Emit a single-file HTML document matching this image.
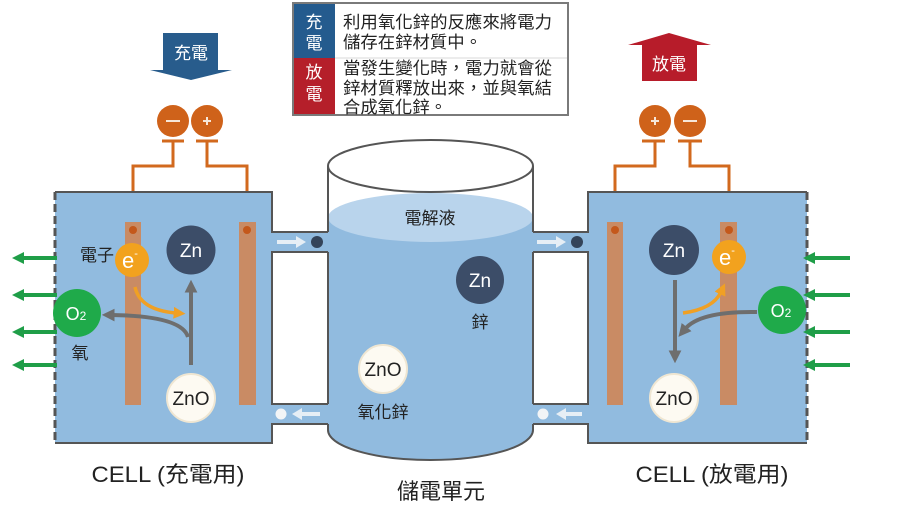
<!DOCTYPE html>
<html><head><meta charset="utf-8"><style>
html,body{margin:0;padding:0;background:#fff;}
svg{display:block;}
text{font-family:"Liberation Sans","Noto Sans CJK TC",sans-serif;}
</style></head><body>
<svg width="900" height="524" viewBox="0 0 900 524" xmlns="http://www.w3.org/2000/svg">
<defs>
<marker id="mg" viewBox="0 0 10 10" refX="2" refY="5" markerWidth="3.2" markerHeight="3.2" orient="auto" markerUnits="strokeWidth"><path d="M0,0 L10,5 L0,10 z" fill="#6e6e6e"/></marker>
<marker id="mo" viewBox="0 0 10 10" refX="2" refY="5" markerWidth="3.4" markerHeight="3.4" orient="auto" markerUnits="strokeWidth"><path d="M0,0 L10,5 L0,10 z" fill="#f0a024"/></marker>
</defs>

<!-- top arrows -->
<polygon points="163,33 218,33 218,70 232,70 191,80 150,70 163,70" fill="#285c8c"/>
<text x="191" y="59" font-size="17" fill="#fff" text-anchor="middle">充電</text>
<polygon points="669,33 711,45 697,45 697,81 642,81 642,45 628,45" fill="#b71c2a"/>
<text x="669" y="70" font-size="17" fill="#fff" text-anchor="middle">放電</text>

<!-- info box -->
<rect x="293" y="3" width="275" height="112" fill="#fff" stroke="#7a7a7a" stroke-width="2"/>
<rect x="294" y="4" width="41" height="54" fill="#245b8e"/>
<rect x="294" y="58" width="41" height="56" fill="#b51f2a"/>
<line x1="335" y1="58" x2="567" y2="58" stroke="#d8d8d8" stroke-width="1"/>
<g font-size="17" fill="#fff" text-anchor="middle">
<text x="314" y="28">充</text><text x="314" y="49">電</text>
<text x="314" y="78">放</text><text x="314" y="100">電</text>
</g>
<g font-size="17" fill="#222">
<text x="343" y="28" textLength="209" lengthAdjust="spacingAndGlyphs">利用氧化鋅的反應來將電力</text>
<text x="343" y="48" textLength="139" lengthAdjust="spacingAndGlyphs">儲存在鋅材質中。</text>
<text x="343" y="74" textLength="209" lengthAdjust="spacingAndGlyphs">當發生變化時，電力就會從</text>
<text x="343" y="94" textLength="209" lengthAdjust="spacingAndGlyphs">鋅材質釋放出來，並與氧結</text>
<text x="343" y="113" textLength="104" lengthAdjust="spacingAndGlyphs">合成氧化鋅。</text>
</g>

<!-- terminals & wires -->
<g stroke="#d2691e" stroke-width="3" fill="none">
<polyline points="173,141 173,166 133,166 133,230"/>
<polyline points="207,141 207,166 247,166 247,230"/>
<line x1="162" y1="141" x2="184" y2="141"/>
<line x1="196" y1="141" x2="218" y2="141"/>
<polyline points="655,141 655,166 615,166 615,230"/>
<polyline points="690,141 690,166 729,166 729,230"/>
<line x1="642" y1="141" x2="665" y2="141"/>
<line x1="678" y1="141" x2="702" y2="141"/>
</g>
<circle cx="173" cy="121" r="16" fill="#cf621a"/>
<circle cx="207" cy="121" r="16" fill="#cf621a"/>
<circle cx="655" cy="121" r="16" fill="#cf621a"/>
<circle cx="690" cy="121" r="16" fill="#cf621a"/>
<g stroke="#f6e6d8" stroke-width="2">
<line x1="166" y1="121" x2="180" y2="121"/>
<line x1="203" y1="121" x2="211" y2="121"/><line x1="207" y1="117" x2="207" y2="125"/>
<line x1="651" y1="121" x2="659" y2="121"/><line x1="655" y1="117" x2="655" y2="125"/>
<line x1="683" y1="121" x2="697" y2="121"/>
</g>

<!-- fills -->
<g fill="#91bbdf">
<rect x="55" y="192" width="217" height="251"/>
<rect x="588" y="192" width="219" height="251"/>
<rect x="272" y="232" width="56" height="20"/>
<rect x="272" y="404" width="56" height="20"/>
<rect x="533" y="232" width="55" height="20"/>
<rect x="533" y="404" width="55" height="20"/>
<rect x="328" y="217" width="205" height="213"/>
<path d="M328,430 A102.5,30 0 0 0 533,430 z"/>
</g>
<ellipse cx="430.5" cy="217.5" rx="102.5" ry="24.5" fill="#b9d4ec"/>
<!-- outlines -->
<g stroke="#555" stroke-width="2" fill="none">
<polyline points="55,192 272,192 272,232 328,232"/>
<polyline points="328,252 272,252 272,404 328,404"/>
<polyline points="328,424 272,424 272,443 55,443"/>
<polyline points="807,192 588,192 588,232 533,232"/>
<polyline points="533,252 588,252 588,404 533,404"/>
<polyline points="533,424 588,424 588,443 807,443"/>
<line x1="328" y1="166" x2="328" y2="232"/>
<line x1="328" y1="252" x2="328" y2="404"/>
<line x1="328" y1="424" x2="328" y2="430"/>
<line x1="533" y1="166" x2="533" y2="232"/>
<line x1="533" y1="252" x2="533" y2="404"/>
<line x1="533" y1="424" x2="533" y2="430"/>
<path d="M328,430 A102.5,30 0 0 0 533,430"/>
</g>
<ellipse cx="430.5" cy="166" rx="102.5" ry="26" fill="#fff" stroke="#555" stroke-width="2"/>
<g stroke="#555" stroke-width="3" stroke-dasharray="8,4">
<line x1="55" y1="192" x2="55" y2="443"/>
<line x1="807" y1="192" x2="807" y2="443"/>
</g>

<!-- pipe arrows -->
<g stroke="#e6eef5" stroke-width="4">
<line x1="277" y1="242" x2="298" y2="242"/>
<line x1="537" y1="242" x2="558" y2="242"/>
<line x1="300" y1="414" x2="320" y2="414"/>
<line x1="564" y1="414" x2="582" y2="414"/>
</g>
<g fill="#e6eef5">
<polygon points="296,236 306,242 296,248"/>
<polygon points="556,236 566,242 556,248"/>
<polygon points="302,408 292,414 302,420"/>
<polygon points="566,408 556,414 566,420"/>
<circle cx="281" cy="414" r="5.5" fill="#f2f4f6"/>
<circle cx="543" cy="414" r="5.5" fill="#f2f4f6"/>
</g>
<circle cx="317" cy="242" r="6" fill="#34445a"/>
<circle cx="577" cy="242" r="6" fill="#34445a"/>

<!-- electrodes -->
<g fill="#c98b64">
<rect x="125" y="222" width="16" height="183"/>
<rect x="239" y="222" width="17" height="183"/>
<rect x="607" y="222" width="16" height="183"/>
<rect x="720" y="222" width="17" height="183"/>
</g>
<g fill="#c4581b">
<circle cx="133" cy="230" r="4"/><circle cx="247" cy="230" r="4"/>
<circle cx="615" cy="230" r="4"/><circle cx="729" cy="230" r="4"/>
</g>

<!-- green arrows -->
<g stroke="#1f9e48" stroke-width="4">
<line x1="57" y1="258" x2="22" y2="258"/><line x1="57" y1="295" x2="22" y2="295"/>
<line x1="57" y1="332" x2="22" y2="332"/><line x1="57" y1="365" x2="22" y2="365"/>
<line x1="850" y1="258" x2="813" y2="258"/><line x1="850" y1="295" x2="813" y2="295"/>
<line x1="850" y1="332" x2="813" y2="332"/><line x1="850" y1="365" x2="813" y2="365"/>
</g>
<g fill="#1f9e48">
<polygon points="24,252 12,258 24,264"/><polygon points="24,289 12,295 24,301"/>
<polygon points="24,326 12,332 24,338"/><polygon points="24,359 12,365 24,371"/>
<polygon points="815,252 803,258 815,264"/><polygon points="815,289 803,295 815,301"/>
<polygon points="815,326 803,332 815,338"/><polygon points="815,359 803,365 815,371"/>
</g>

<!-- left cell arrows -->
<line x1="191" y1="365" x2="191" y2="290" stroke="#6e6e6e" stroke-width="4" marker-end="url(#mg)"/>
<path d="M188,337 Q182,316 112,315" stroke="#6e6e6e" stroke-width="4" fill="none" marker-end="url(#mg)"/>
<path d="M135,287 Q140,310 176,313" stroke="#f0a024" stroke-width="3.5" fill="none" marker-end="url(#mo)"/>
<!-- right cell arrows -->
<line x1="675" y1="280" x2="675" y2="353" stroke="#6e6e6e" stroke-width="4" marker-end="url(#mg)"/>
<path d="M757,312 Q700,311 685,329" stroke="#6e6e6e" stroke-width="4" fill="none" marker-end="url(#mg)"/>
<path d="M683,313 Q713,309 721,292" stroke="#f0a024" stroke-width="3.5" fill="none" marker-end="url(#mo)"/>

<!-- circles -->
<g font-size="19" text-anchor="middle">
<circle cx="191" cy="250" r="24.5" fill="#3c4d68"/><text x="191" y="257" fill="#fff">Zn</text>
<circle cx="674" cy="250" r="25" fill="#3c4d68"/><text x="674" y="257" fill="#fff">Zn</text>
<circle cx="480" cy="280" r="24" fill="#3c4d68"/><text x="480" y="287" fill="#fff">Zn</text>
<circle cx="191" cy="398" r="24" fill="#fdfaf2" stroke="#efe6d2" stroke-width="2"/><text x="191" y="405" fill="#222">ZnO</text>
<circle cx="674" cy="398" r="24" fill="#fdfaf2" stroke="#efe6d2" stroke-width="2"/><text x="674" y="405" fill="#222">ZnO</text>
<circle cx="383" cy="369" r="24" fill="#fdfaf2" stroke="#efe6d2" stroke-width="2"/><text x="383" y="376" fill="#222">ZnO</text>
<circle cx="132" cy="260" r="17" fill="#f2a21e"/><text x="130" y="268" fill="#fff" font-size="22">e<tspan font-size="11" dy="-11">-</tspan></text>
<circle cx="729" cy="257" r="17" fill="#f2a21e"/><text x="727" y="265" fill="#fff" font-size="22">e<tspan font-size="11" dy="-11">-</tspan></text>
<circle cx="77" cy="313" r="24" fill="#1faa4a"/><text x="76" y="320" fill="#fff" font-size="18">O<tspan font-size="12" dy="0">2</tspan></text>
<circle cx="782" cy="310" r="24" fill="#1faa4a"/><text x="781" y="317" fill="#fff" font-size="18">O<tspan font-size="12" dy="0">2</tspan></text>
</g>

<!-- labels -->
<g font-size="17" fill="#222">
<text x="114" y="261" text-anchor="end">電子</text>
<text x="80" y="359" text-anchor="middle">氧</text>
<text x="430" y="224" text-anchor="middle">電解液</text>
<text x="480" y="328" text-anchor="middle">鋅</text>
<text x="383" y="418" text-anchor="middle">氧化鋅</text>
</g>
<g font-size="22" fill="#222" text-anchor="middle">
<text x="168" y="482" textLength="153" lengthAdjust="spacingAndGlyphs">CELL (充電用)</text>
<text x="712" y="482" textLength="153" lengthAdjust="spacingAndGlyphs">CELL (放電用)</text>
<text x="441" y="499">儲電單元</text>
</g>
</svg>
</body></html>
